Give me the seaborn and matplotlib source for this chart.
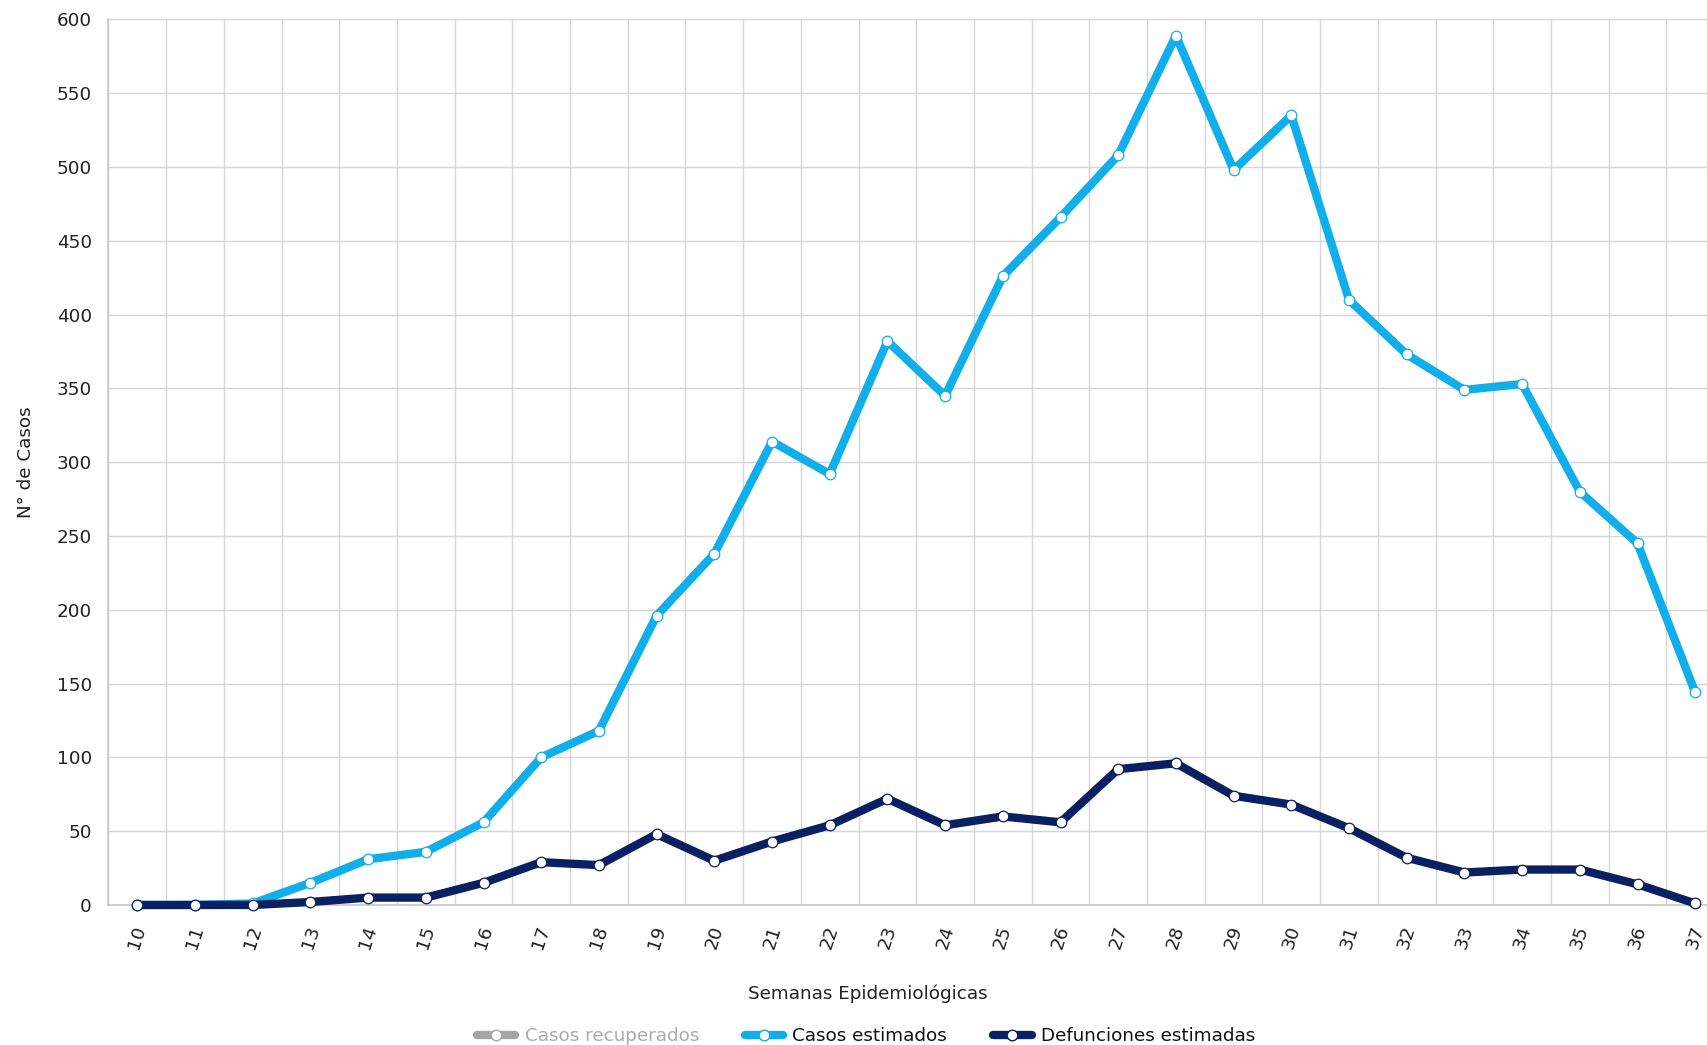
import numpy as np
import pandas as pd
import seaborn as sns
import matplotlib
matplotlib.use("Agg")
import matplotlib.pyplot as plt
from matplotlib.lines import Line2D
from matplotlib.ticker import FixedLocator

weeks = [str(w) for w in range(10, 38)]
casos_estimados = [0, 0, 1, 15, 31, 36, 56, 100, 118, 196, 238, 314, 292, 382, 345,
                   426, 466, 508, 589, 498, 535, 410, 373, 349, 353, 280, 245, 144]
defunciones_estimadas = [0, 0, 0, 2, 5, 5, 15, 29, 27, 48, 30, 43, 54, 72, 54,
                         60, 56, 92, 96, 74, 68, 52, 32, 22, 24, 24, 14, 1]
series_names = ["Casos recuperados", "Casos estimados", "Defunciones estimadas"]
series_colors = ["#A5A5A5", "#10AEEA", "#0A2062"]
y_ticks = list(range(0, 601, 50))

sns.set_theme(style="white")
plt.rcParams['font.family'] = ['DejaVu Sans']

FS = 13.2
LW = 6.0
MS = 7.6
fig = plt.figure(figsize=(17.08, 10.45), dpi=100)
ax = fig.add_axes([0.0635, 0.134, 1.0094 - 0.0635, 0.9814 - 0.134])

pos = np.arange(len(weeks))
df = pd.DataFrame({"x": pos, "est": casos_estimados, "def": defunciones_estimadas})

for col, color in [("est", series_colors[1]), ("def", series_colors[2])]:
    sns.lineplot(data=df, x="x", y=col, ax=ax, color=color, linewidth=LW,
                 marker="o", markersize=MS, markerfacecolor="white",
                 markeredgecolor=color, markeredgewidth=0.9, sort=False,
                 zorder=3, clip_on=False)

ax.set_xlim(-0.5, len(weeks) - 0.5)
ax.set_ylim(0, 600)
ax.yaxis.set_major_locator(FixedLocator(y_ticks))
ax.set_xticks(pos)
ax.set_xticklabels(weeks, rotation=72, fontsize=FS, color="#222222")
ax.xaxis.set_minor_locator(FixedLocator(np.arange(-0.5, len(weeks), 1.0)))
ax.tick_params(axis="y", labelsize=FS, labelcolor="#222222", pad=12, length=0)
ax.tick_params(axis="x", which="major", pad=13, length=0)
ax.tick_params(axis="x", which="minor", length=0)

ax.grid(False)
ax.grid(True, axis="y", which="major", color="#D6D6D6", linewidth=1.0)
ax.grid(True, axis="x", which="minor", color="#D6D6D6", linewidth=1.0)
for s in ["top", "right"]:
    ax.spines[s].set_visible(False)
for s in ["left", "bottom"]:
    ax.spines[s].set_color("#C8C8C8")
    ax.spines[s].set_linewidth(1.2)

ax.set_xlabel("Semanas Epidemiológicas", fontsize=FS, color="#222222")
ax.xaxis.set_label_coords(0.470, -0.090)
ax.set_ylabel("N° de Casos", fontsize=FS, color="#222222")
ax.yaxis.set_label_coords(-0.0455, 0.5)

handles = [Line2D([0], [0], color=c, linewidth=LW, marker="o", markersize=MS,
                  markerfacecolor="white", markeredgecolor=c) for c in series_colors]
leg = fig.legend(handles, series_names, loc="center", bbox_to_anchor=(0.507, 0.0085),
                 ncol=3, frameon=False, fontsize=FS, handlelength=2.1,
                 columnspacing=2.5, handletextpad=0.5)
for t, c in zip(leg.get_texts(), ["#ABABAB", "#111111", "#111111"]):
    t.set_color(c)

fig.savefig("out.png", dpi=100)
